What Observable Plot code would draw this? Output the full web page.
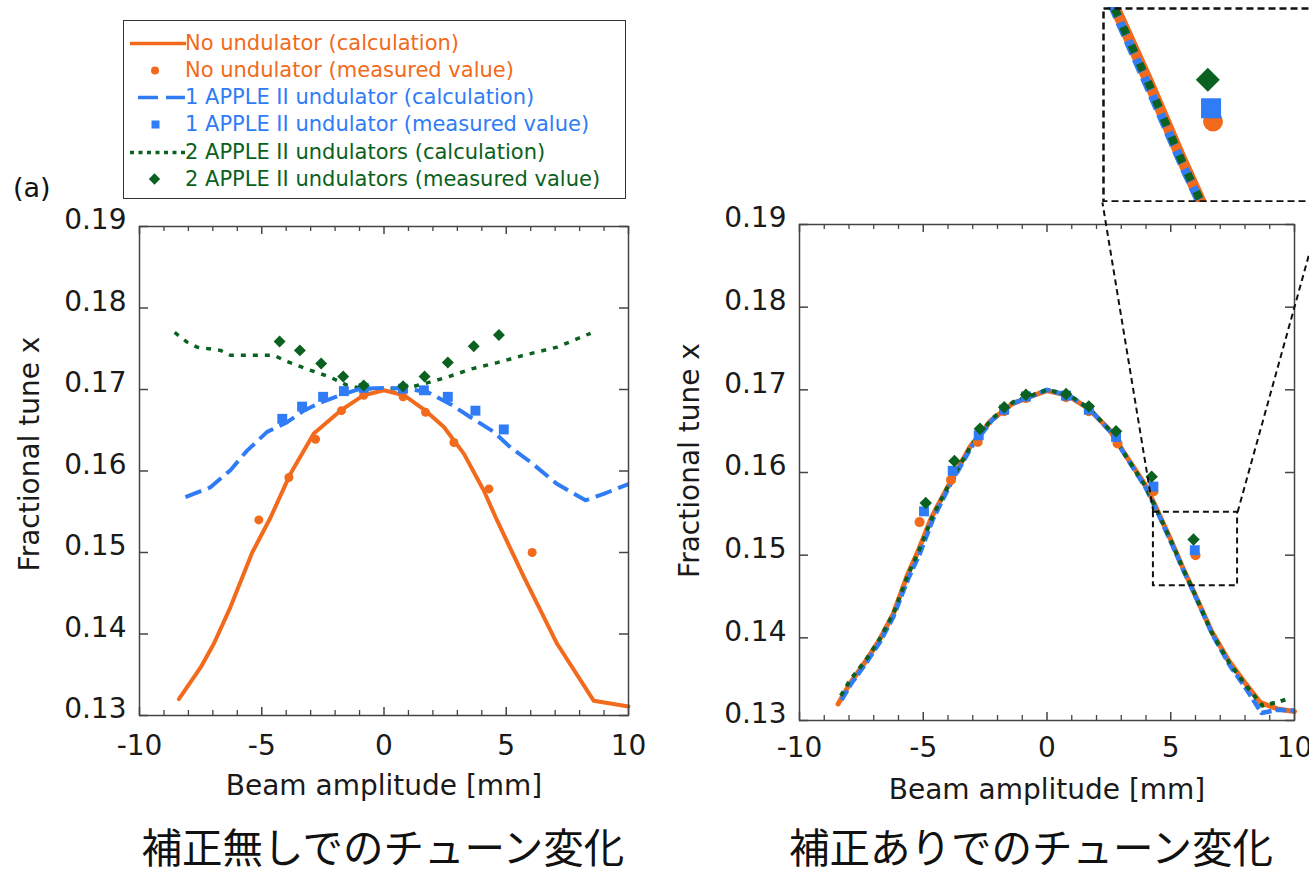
<!DOCTYPE html>
<html><head><meta charset="utf-8">
<script src="https://cdn.jsdelivr.net/npm/d3@7"></script>
<script src="https://cdn.jsdelivr.net/npm/@observablehq/plot@0.6"></script>
<style>
body{margin:0;width:1309px;height:876px;overflow:hidden;background:#fff;position:relative;font-family:"DejaVu Sans",sans-serif;color:#1a1a1a}
.abs{position:absolute}
.legend{position:absolute;left:123px;top:20px;width:503px;height:179px;border:1.5px solid #333;background:#fff;box-sizing:border-box}
.row{position:absolute;left:0;height:27px;width:500px}
.row svg{position:absolute;left:0;top:0}
.row span{position:absolute;left:61px;top:0;line-height:27px;font-size:21px;white-space:nowrap}
.cap{position:absolute;top:817px;width:640px;text-align:center;font-family:"Noto Sans CJK JP",sans-serif;font-size:40.5px;line-height:58px;color:#111}
</style></head><body>
<script>
// ---------- axes ----------
const xMajor = [-10, -5, 0, 5, 10];
const xMinor = [-9, -8, -7, -6, -4, -3, -2, -1, 1, 2, 3, 4, 6, 7, 8, 9];
const yTicks = [0.13, 0.14, 0.15, 0.16, 0.17, 0.18, 0.19];
const xLabel = "Beam amplitude [mm]";
const yLabel = "Fractional tune x";

// ---------- left panel (no correction) ----------
const L_noCalcX = [-8.39,-7.5,-6.96,-6.28,-5.39,-4.64,-3.82,-2.87,-1.78,-0.83,0,0.81,1.70,2.45,3.27,4.08,4.63,5.72,7.08,8.58,10];
const L_noCalcY = [0.132,0.1359,0.1388,0.1433,0.150,0.1543,0.1597,0.1646,0.1674,0.1693,0.1699,0.1693,0.1674,0.1654,0.1621,0.1576,0.1539,0.147,0.1388,0.1318,0.1311];
const L_noMeasX = [-5.12,-3.89,-2.8,-1.74,-0.83,0.78,1.70,2.86,4.29,6.06];
const L_noMeasY = [0.154,0.1592,0.1639,0.1674,0.1693,0.1691,0.1672,0.1635,0.1578,0.150];
const L_oneCalcX = [-8.12,-7.1,-6.28,-5.6,-4.78,-3.96,-3.28,-2.6,-1.78,-0.96,0,0.9,1.77,2.72,3.54,4.49,5.17,5.99,7.08,8.24,8.99,10];
const L_oneCalcY = [0.1568,0.158,0.1601,0.1625,0.1648,0.166,0.1674,0.1684,0.1693,0.1701,0.1702,0.1701,0.1697,0.1682,0.1666,0.1648,0.1629,0.1611,0.1584,0.1564,0.1572,0.1584];
const L_oneMeasX = [-4.16,-3.35,-2.49,-1.64,-0.83,0.78,1.63,2.61,3.74,4.90];
const L_oneMeasY = [0.1664,0.1679,0.1691,0.1698,0.1702,0.1701,0.1699,0.1691,0.1674,0.1651];
const L_twoCalcX = [-8.56,-8.05,-7.64,-6.69,-6.28,-4.5,-4.03,-3.14,-2.19,-1.5,-0.84,0,0.84,1.63,2.58,3.54,4.63,5.72,7.08,8.45];
const L_twoCalcY = [0.177,0.1758,0.1752,0.1748,0.1742,0.1742,0.1735,0.1725,0.1715,0.1705,0.1701,0.1701,0.1701,0.1707,0.1715,0.1725,0.1733,0.1742,0.1752,0.1769];
const L_twoMeasX = [-4.27,-3.44,-2.57,-1.67,-0.83,0.78,1.66,2.61,3.67,4.70];
const L_twoMeasY = [0.1759,0.1748,0.1732,0.1716,0.1705,0.1704,0.1716,0.1733,0.1753,0.1767];

// ---------- right panel (with correction) ----------
const R_noCalcX = [-8.44,-7.98,-7.34,-6.78,-6.21,-5.65,-5.22,-4.66,-3.95,-3.11,-2.26,-1.41,-0.57,0,0.85,1.69,2.54,3.24,3.95,4.37,5.01,5.5,5.79,6.63,7.33,8.04,8.61,9.31,10];
const R_noCalcY = [0.132,0.1344,0.1371,0.1397,0.1429,0.1475,0.1504,0.1546,0.1586,0.1631,0.1663,0.1683,0.1693,0.1699,0.1693,0.1677,0.1651,0.1618,0.1586,0.1560,0.1518,0.1484,0.1465,0.1409,0.1373,0.1344,0.1322,0.1314,0.1311];
const R_noMeasX = [-5.15,-3.88,-2.8,-1.73,-0.85,0.77,1.69,2.85,4.3,6.0];
const R_noMeasY = [0.1540,0.1591,0.1637,0.1674,0.1690,0.1691,0.1674,0.1635,0.1577,0.1500];
const R_oneCalcX = [-8.3,-7.9,-7.3,-6.75,-6.2,-5.6,-5.15,-4.6,-3.9,-3.05,-2.2,-1.35,-0.5,0,0.9,1.75,2.6,3.3,4.0,4.45,5.05,5.55,5.85,6.7,7.4,8.1,8.67,9.3,10];
const R_oneCalcY = [0.1325,0.1345,0.1370,0.1395,0.1426,0.1472,0.1501,0.1544,0.1586,0.1631,0.1664,0.1684,0.1694,0.1700,0.1693,0.1676,0.1648,0.1614,0.1581,0.1553,0.1513,0.1479,0.1460,0.1403,0.1366,0.1336,0.1309,0.1313,0.1312];
const R_oneMeasX = [-4.97,-3.81,-2.76,-1.73,-0.85,0.77,1.69,2.79,4.3,5.97];
const R_oneMeasY = [0.1553,0.1602,0.1645,0.1676,0.1692,0.1693,0.1676,0.1643,0.1583,0.1506];
const R_twoCalcX = [-8.33,-7.95,-7.3,-6.75,-6.2,-5.62,-5.18,-4.62,-3.92,-3.08,-2.23,-1.38,-0.55,0,0.88,1.72,2.57,3.27,3.98,4.42,5.03,5.52,5.82,6.66,7.36,8.07,8.7,9.3,9.7];
const R_twoCalcY = [0.1330,0.1349,0.1374,0.1399,0.1430,0.1476,0.1505,0.1547,0.1588,0.1632,0.1665,0.1685,0.1694,0.1700,0.1694,0.1677,0.1650,0.1616,0.1583,0.1556,0.1516,0.1482,0.1463,0.1406,0.1370,0.1341,0.1318,0.1322,0.1326];
const R_twoMeasX = [-4.9,-3.74,-2.71,-1.73,-0.85,0.77,1.69,2.79,4.23,5.92];
const R_twoMeasY = [0.1563,0.1614,0.1653,0.1679,0.1694,0.1695,0.1680,0.1650,0.1595,0.1519];

// ---------- zoom inset ----------
const zoomX = [4.3, 7.7];          // data window magnified
const zoomY = [0.1463, 0.1552];
const insetX = [2.24, 11.17];      // where the magnified view sits (outer data units)
const insetY = [0.19266, 0.21625];

const legendLabels = [
  "No undulator (calculation)", "No undulator (measured value)",
  "1 APPLE II undulator (calculation)", "1 APPLE II undulator (measured value)",
  "2 APPLE II undulators (calculation)", "2 APPLE II undulators (measured value)"
];
const captions = ["補正無しでのチューン変化", "補正ありでのチューン変化"];

const C = {no: "#f26a1b", one: "#2f7cf6", two: "#0b6120"};
const INK = "#1a1a1a", FRAME = "#444";
const pts = (xs, ys) => xs.map((x, i) => ({x, y: ys[i]}));

function panel(o) {
  const innerW = o.width - o.mL - o.mR, innerH = o.height - o.mT - o.mB;
  const s = o.s;
  const twoLine = Plot.line(pts(o.twoCalc[0], o.twoCalc[1]), {x: "x", y: "y", stroke: C.two, strokeWidth: s.lw2, strokeDasharray: s.dash2, strokeLinecap: "butt"});
  return Plot.plot({
    width: o.width, height: o.height,
    marginLeft: o.mL, marginRight: o.mR, marginTop: o.mT, marginBottom: o.mB,
    style: {fontFamily: "DejaVu Sans", fontSize: "28px", color: INK, background: "transparent", overflow: "visible"},
    x: {domain: [-10, 10], axis: null},
    y: {domain: [0.13, 0.19], axis: null},
    marks: [
      ...(o.twoOnTop ? [] : [twoLine]),
      Plot.line(pts(o.noCalc[0], o.noCalc[1]), {x: "x", y: "y", stroke: C.no, strokeWidth: s.lw0}),
      Plot.line(pts(o.oneCalc[0], o.oneCalc[1]), {x: "x", y: "y", stroke: C.one, strokeWidth: s.lw1, strokeDasharray: s.dash1, strokeLinecap: "butt"}),
      ...(o.twoOnTop ? [twoLine] : []),
      Plot.dot(pts(o.noMeas[0], o.noMeas[1]), {x: "x", y: "y", r: s.r0, fill: C.no, symbol: "circle"}),
      Plot.dot(pts(o.oneMeas[0], o.oneMeas[1]), {x: "x", y: "y", r: s.r1, fill: C.one, symbol: "square"}),
      Plot.dot(pts(o.twoMeas[0], o.twoMeas[1]), {x: "x", y: "y", r: s.r2, fill: C.two, symbol: "diamond2"}),
      Plot.frame({stroke: FRAME, strokeWidth: 1.5}),
      Plot.ruleX(xMajor, {x: d => d, insetTop: innerH - 8, stroke: FRAME, strokeWidth: 1.5}),
      Plot.ruleX(xMajor, {x: d => d, insetBottom: innerH - 8, stroke: FRAME, strokeWidth: 1.5}),
      Plot.ruleX(xMinor, {x: d => d, insetTop: innerH - 5, stroke: FRAME, strokeWidth: 1.3}),
      Plot.ruleX(xMinor, {x: d => d, insetBottom: innerH - 5, stroke: FRAME, strokeWidth: 1.3}),
      Plot.ruleY(yTicks, {y: d => d, insetRight: innerW - 9, stroke: FRAME, strokeWidth: 1.5}),
      Plot.ruleY(yTicks, {y: d => d, insetLeft: innerW - 9, stroke: FRAME, strokeWidth: 1.5}),
      Plot.text(xMajor, {x: d => d, y: 0.13, dy: o.xTickDy, text: d => String(d), fontSize: 28, fill: INK}),
      Plot.text(yTicks, {x: -10, y: d => d, dx: -13, dy: -6, text: d => d.toFixed(2), textAnchor: "end", fontSize: 28, fill: INK}),
      Plot.text([xLabel], {x: 0, y: 0.13, dy: o.xLabDy, text: d => d, fontSize: 28, fill: INK}),
      Plot.text([yLabel], {x: -10, y: 0.16, rotate: -90, dx: o.yLabDx, dy: o.yLabDy, text: d => d, fontSize: 28, fill: INK}),
      ...(o.extra || [])
    ]
  });
}

const sLeft = {lw0: 4, lw1: 4, lw2: 3.5, dash1: "17,7", dash2: "5,7", r0: 4.5, r1: 5.6, r2: 5.4};
const sRight = {lw0: 5, lw1: 4.5, lw2: 4, dash1: "11,4", dash2: "5,6", r0: 5, r1: 5.6, r2: 5.6};

const left = panel({
  width: 660, height: 800, mL: 139, mR: 32, mT: 226, mB: 85, s: sLeft,
  noCalc: [L_noCalcX, L_noCalcY], noMeas: [L_noMeasX, L_noMeasY],
  oneCalc: [L_oneCalcX, L_oneCalcY], oneMeas: [L_oneMeasX, L_oneMeasY],
  twoCalc: [L_twoCalcX, L_twoCalcY], twoMeas: [L_twoMeasX, L_twoMeasY],
  xTickDy: 31, xLabDy: 71, yLabDx: -109, yLabDy: -17
});
left.classList.add("abs"); left.style.left = "0px"; left.style.top = "0px";
document.body.appendChild(left);

const zoomBox = [{x1: zoomX[0], x2: zoomX[1], y1: zoomY[0], y2: zoomY[1]}];
const connectors = [
  {x1: zoomX[0], y1: zoomY[1], x2: insetX[0], y2: insetY[0]},
  {x1: zoomX[1], y1: zoomY[1], x2: insetX[1], y2: insetY[0]}
];
const RIGHT_LEFT = 680;
const right = panel({
  width: 629, height: 800, mL: 119, mR: 15, mT: 224, mB: 80, s: sRight, twoOnTop: true,
  noCalc: [R_noCalcX, R_noCalcY], noMeas: [R_noMeasX, R_noMeasY],
  oneCalc: [R_oneCalcX, R_oneCalcY], oneMeas: [R_oneMeasX, R_oneMeasY],
  twoCalc: [R_twoCalcX, R_twoCalcY], twoMeas: [R_twoMeasX, R_twoMeasY],
  xTickDy: 28, xLabDy: 70, yLabDx: -109, yLabDy: -12,
  extra: [
    Plot.rect(zoomBox, {x1: "x1", x2: "x2", y1: "y1", y2: "y2", fill: "none", stroke: "#111", strokeWidth: 2, strokeDasharray: "6,4"}),
    Plot.link(connectors, {x1: "x1", y1: "y1", x2: "x2", y2: "y2", stroke: "#111", strokeWidth: 2, strokeDasharray: "6,4"})
  ]
});
right.classList.add("abs"); right.style.left = RIGHT_LEFT + "px"; right.style.top = "0px";
document.body.appendChild(right);

// inset (magnified view), placed using the right panel's own scales
const sx = right.scale("x"), sy = right.scale("y");
const ix0 = sx.apply(insetX[0]), ix1 = sx.apply(insetX[1]);
const iy0 = sy.apply(insetY[1]), iy1 = sy.apply(insetY[0]);
const iw = Math.round(ix1 - ix0), ih = Math.round(iy1 - iy0);
const inset = Plot.plot({
  width: iw, height: ih, margin: 0,
  style: {background: "#fff", overflow: "hidden"},
  x: {domain: zoomX, axis: null},
  y: {domain: zoomY, axis: null},
  marks: [
    Plot.line(pts(R_noCalcX, R_noCalcY), {x: "x", y: "y", stroke: C.no, strokeWidth: 11, clip: true}),
    Plot.line(pts(R_oneCalcX, R_oneCalcY), {x: "x", y: "y", stroke: C.one, strokeWidth: 9, strokeDasharray: "14,6", strokeLinecap: "butt", clip: true}),
    Plot.line(pts(R_twoCalcX, R_twoCalcY), {x: "x", y: "y", stroke: C.two, strokeWidth: 8, strokeDasharray: "8,12", strokeLinecap: "butt", clip: true}),
    Plot.dot(pts(R_noMeasX, R_noMeasY), {x: "x", y: "y", r: 10, fill: C.no, symbol: "circle", clip: true}),
    Plot.dot(pts(R_oneMeasX, R_oneMeasY), {x: "x", y: "y", r: 11.3, fill: C.one, symbol: "square", clip: true}),
    Plot.dot(pts(R_twoMeasX, R_twoMeasY), {x: "x", y: "y", r: 10.8, fill: C.two, symbol: "diamond2", clip: true}),
    Plot.frame({stroke: "#111", strokeWidth: 2.5, strokeDasharray: "7,4", inset: 1})
  ]
});
inset.classList.add("abs");
inset.style.left = (RIGHT_LEFT + ix0) + "px";
inset.style.top = iy0 + "px";
document.body.appendChild(inset);

// legend
const lg = document.createElement("div");
lg.className = "legend";
const colors = [C.no, C.no, C.one, C.one, C.two, C.two];
const swatches = [
  `<line x1="6" x2="62" y1="13.5" y2="13.5" stroke="${C.no}" stroke-width="3.5"/>`,
  `<circle cx="31" cy="13.5" r="4" fill="${C.no}"/>`,
  `<line x1="14" x2="34" y1="13.5" y2="13.5" stroke="${C.one}" stroke-width="3.5"/><line x1="42" x2="61" y1="13.5" y2="13.5" stroke="${C.one}" stroke-width="3.5"/>`,
  `<rect x="27.5" y="9.5" width="8" height="8" fill="${C.one}"/>`,
  `<line x1="6" x2="62" y1="13.5" y2="13.5" stroke="${C.two}" stroke-width="3.5" stroke-dasharray="4,4.5"/>`,
  `<rect x="26.5" y="9" width="8" height="8" fill="${C.two}" transform="rotate(45 30.5 13)"/>`
];
const rowCenters = [22, 49.5, 76.5, 103.5, 131, 158];
legendLabels.forEach((t, i) => {
  const r = document.createElement("div");
  r.className = "row";
  r.style.top = (rowCenters[i] - 13.5) + "px";
  r.innerHTML = `<svg width="64" height="27">${swatches[i]}</svg><span style="color:${colors[i]}">${t}</span>`;
  lg.appendChild(r);
});
document.body.appendChild(lg);

const a = document.createElement("div");
a.className = "abs";
a.style.cssText = "left:13px;top:168px;font-size:27px;line-height:40px;font-family:'DejaVu Sans',sans-serif;color:#111";
a.textContent = "(a)";
document.body.appendChild(a);

[[383, captions[0]], [1031, captions[1]]].forEach(([cx, t]) => {
  const d = document.createElement("div");
  d.className = "cap";
  d.style.left = (cx - 320) + "px";
  d.textContent = t;
  document.body.appendChild(d);
});
</script>
</body></html>
